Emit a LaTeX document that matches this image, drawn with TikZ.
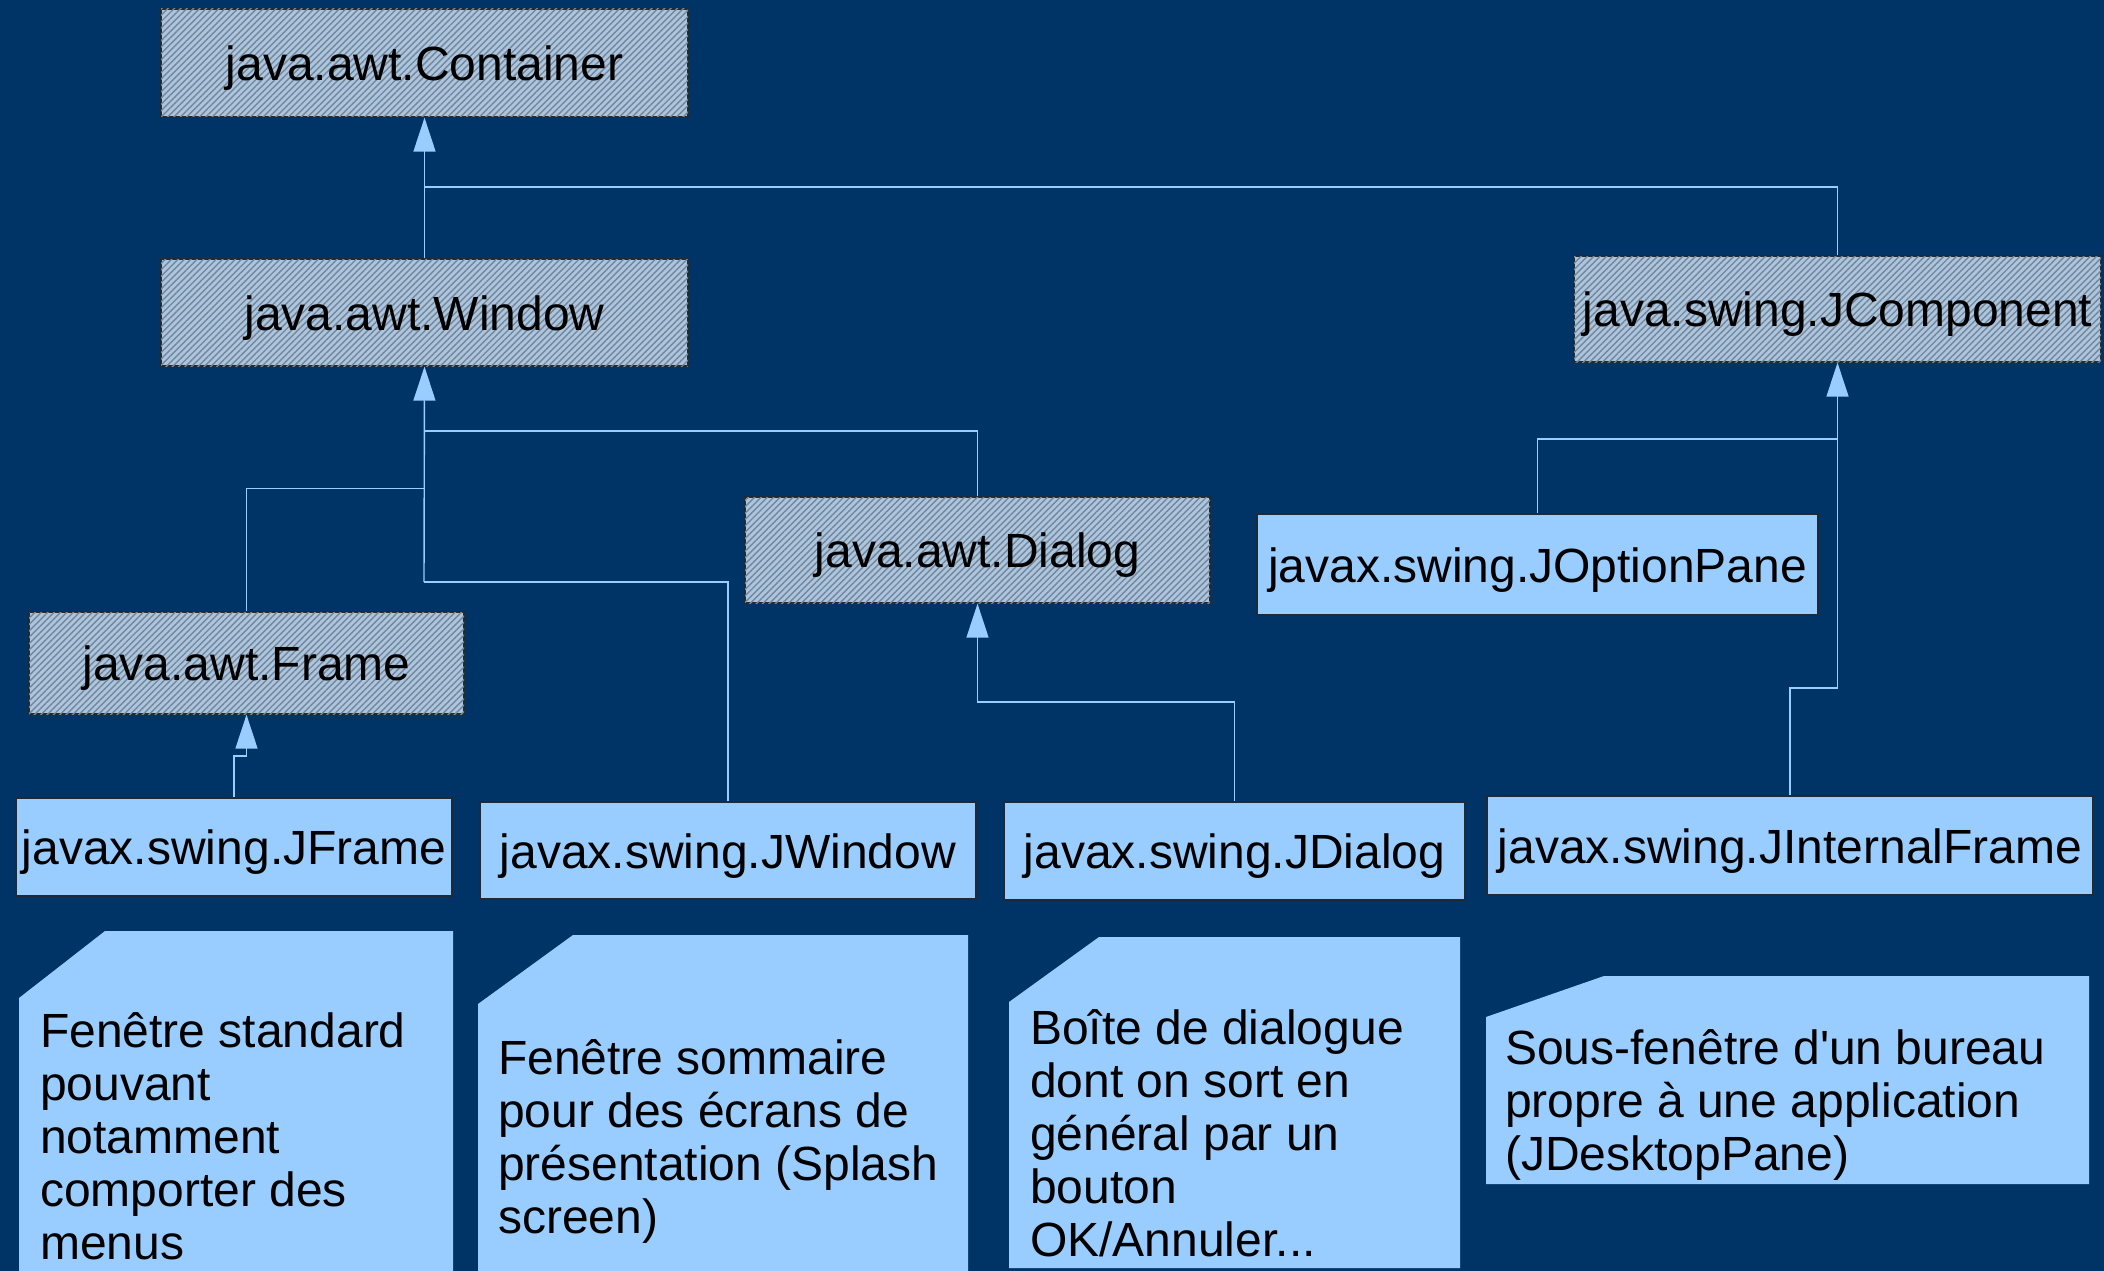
\documentclass[tikz,border=0pt]{standalone}
\usepackage{fontspec}
\newfontfamily\plainsans{Liberation Sans}
\usetikzlibrary{arrows.meta,patterns.meta}
\definecolor{bgnavy}{HTML}{003366}
\definecolor{lightb}{HTML}{99CCFF}
\definecolor{hatchbg}{HTML}{A9C6E2}
\definecolor{hatchln}{HTML}{7A8591}
\definecolor{boxborder}{HTML}{1E2A36}
\tikzset{
  cls/.style={draw=boxborder, line width=1.3pt, inner sep=0pt, text height=35pt, text depth=0pt, font=\plainsans\fontsize{48}{53}\selectfont},
  abstractcls/.style={cls, fill=hatchbg, postaction={pattern={Lines[angle=45,distance=4.5pt,line width=1.4pt]}, pattern color=hatchln}},
  concretecls/.style={cls, fill=lightb},
  conn/.style={draw=lightb, line width=1.4pt},
  gen/.style={conn, -{Triangle[width=22pt,length=34pt,fill=lightb]}},
  notetext/.style={anchor=base west, inner sep=0pt, align=left, font=\plainsans\fontsize{48}{53}\selectfont},
  notefill/.style={fill=lightb}
}
\begin{document}
\begin{tikzpicture}[x=1pt,y=-1pt]
\useasboundingbox (0,0) rectangle (2104,1271);
\fill[bgnavy] (0,0) rectangle (2104,1271);

% class boxes
\node[abstractcls, minimum width=527pt, minimum height=108pt] (container) at (424.5,63) {java.awt.Container};
\node[abstractcls, minimum width=527pt, minimum height=107pt] (window) at (424.5,312.5) {java.awt.Window};
\node[abstractcls, minimum width=527pt, minimum height=106pt] (jcomp) at (1837.5,309) {java.swing.JComponent};
\node[abstractcls, minimum width=465pt, minimum height=106pt] (dialog) at (977.5,550) {java.awt.Dialog};
\node[abstractcls, minimum width=435pt, minimum height=102pt] (frame) at (246.5,663) {java.awt.Frame};

\node[concretecls, minimum width=561pt, minimum height=101pt] (joption) at (1537.5,564.5) {javax.swing.JOptionPane};
\node[concretecls, minimum width=436pt, minimum height=98pt] (jframe) at (234,847) {javax.swing.JFrame};
\node[concretecls, minimum width=496pt, minimum height=97pt] (jwindow) at (728,850.5) {javax.swing.JWindow};
\node[concretecls, minimum width=461pt, minimum height=98pt] (jdialog) at (1234.5,851) {javax.swing.JDialog};
\node[concretecls, minimum width=606pt, minimum height=99pt] (jinternal) at (1790,845.5) {javax.swing.JInternalFrame};

% junction coordinates
\coordinate (jA) at (424,187);
\coordinate (jB) at (424,431);
\coordinate (jC) at (424,488.5);
\coordinate (jD) at (424,582);
\coordinate (jE) at (246.5,756);
\coordinate (jF) at (977.5,702);
\coordinate (jG) at (1837.5,439);
\coordinate (jH) at (1837.5,688);

% connectors
\draw[gen] (window.north) -- (container.south);
\draw[conn] (jcomp.north) |- (jA);
\draw[gen] (jD) -- (window.south);
\draw[conn] (dialog.north) |- (jB);
\draw[conn] (frame.north) |- (jC);
\draw[conn] (jwindow.north) |- (jD);
\draw[gen] (jframe.north) |- (jE) -- (frame.south);
\draw[gen] (jdialog.north) |- (jF) -- (dialog.south);
\draw[conn] (joption.north) |- (jG);
\draw[gen] (jinternal.north) |- (jH) -- (jcomp.south);

% notes
\path[notefill] (19,998) -- (105,931) -- (453,931) -- (453,1271) -- (19,1271) -- cycle;
\path[notefill] (478,1004) -- (573,935) -- (968,935) -- (968,1271) -- (478,1271) -- cycle;
\path[notefill] (1009,1002) -- (1099,937) -- (1460,937) -- (1460,1268) -- (1009,1268) -- cycle;
\path[notefill] (1486,1017) -- (1604,976) -- (2089,976) -- (2089,1184) -- (1486,1184) -- cycle;

% anchor = baseline of the last line
\node[notetext] (n1) at (40,1259) {Fenêtre standard\\pouvant\\notamment\\comporter des\\menus};
\node[notetext] (n2) at (498,1233) {Fenêtre sommaire\\pour des écrans de\\présentation (Splash\\screen)};
\node[notetext] (n3) at (1030,1256) {Boîte de dialogue\\dont on sort en\\général par un\\bouton\\OK/Annuler...};
\node[notetext] (n4) at (1505,1170) {Sous-fenêtre d'un bureau\\propre à une application\\(JDesktopPane)};
\end{tikzpicture}
\end{document}
